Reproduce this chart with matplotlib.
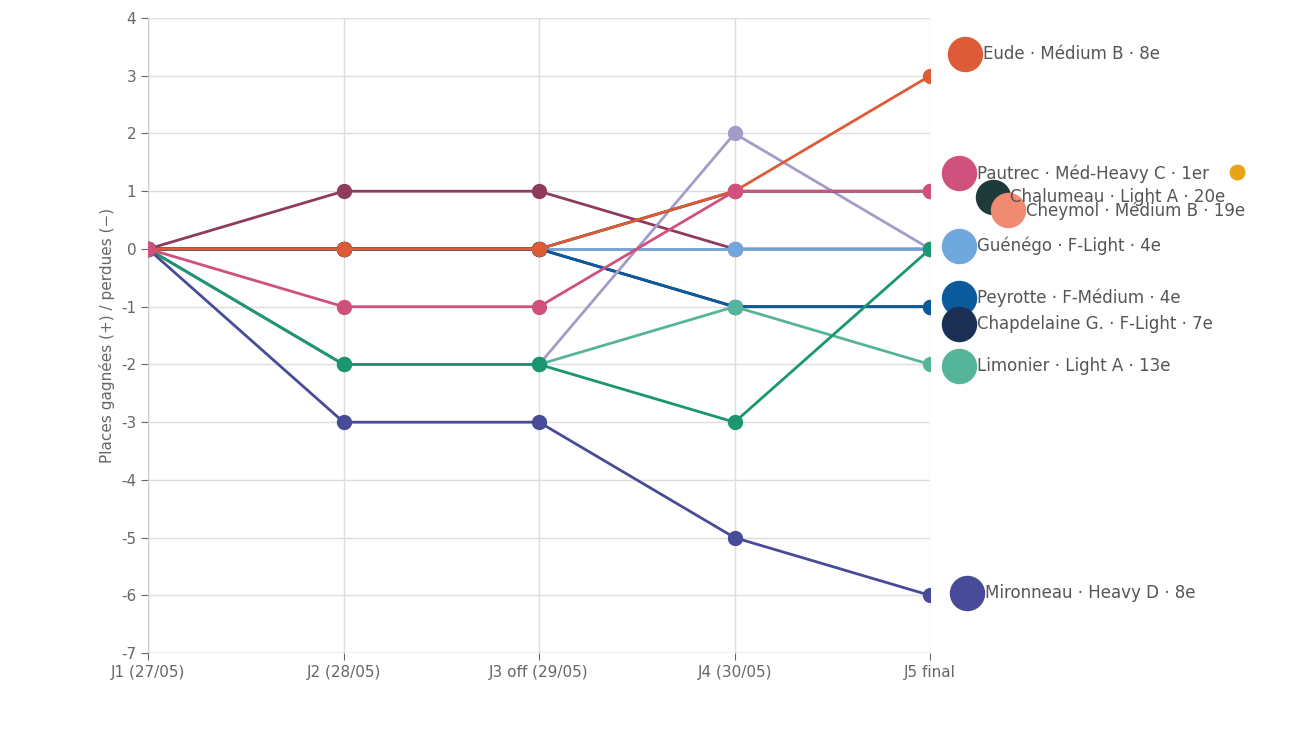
import matplotlib
matplotlib.use("Agg")
import matplotlib.pyplot as plt

plt.rcParams["axes.unicode_minus"] = False

days = ["J1 (27/05)", "J2 (28/05)", "J3 off (29/05)", "J4 (30/05)", "J5 final"]

# values per day
cheymol = [0, 0, 0, 0, 0]
guenego = [0, 0, 0, 0, 0]
maroon = [0, 1, 1, 0, 0]
chapdelaine = [0, 0, 0, -1, -1]
peyrotte = [0, 0, 0, -1, -1]
limonier = [0, -2, -2, -1, -2]
lavender = [0, -2, -2, 2, 0]
vert = [0, -2, -2, -3, 0]
mironneau = [0, -3, -3, -5, -6]
eude = [0, 0, 0, 1, 3]
pautrec = [0, -1, -1, 1, 1]
chalumeau = [0, 0, 0, 1, 1]

series = [
    (cheymol, "#f08a70"),
    (maroon, "#8e3b5e"),
    (guenego, "#6fa8dc"),
    (chapdelaine, "#1b2f55"),
    (peyrotte, "#0a5a9c"),
    (limonier, "#55b59a"),
    (lavender, "#a39cc9"),
    (vert, "#1a9670"),
    (mironneau, "#474b98"),
    (chalumeau, "#1e3a3a"),
    (eude, "#dd5b36"),
    (pautrec, "#d0507e"),
]

# end labels
label_texts = ["Eude · Médium B · 8e", "Pautrec · Méd-Heavy C · 1er", "Chalumeau · Light A · 20e",
               "Cheymol · Médium B · 19e", "Guénégo · F-Light · 4e", "Peyrotte · F-Médium · 4e",
               "Chapdelaine G. · F-Light · 7e", "Limonier · Light A · 13e", "Mironneau · Heavy D · 8e"]
label_colors = ["#dd5b36", "#d0507e", "#1e3a3a", "#f08a70", "#6fa8dc", "#0a5a9c",
                "#1b2f55", "#55b59a", "#474b98"]
label_x = [4.18, 4.15, 4.32, 4.40, 4.15, 4.15, 4.15, 4.15, 4.19]
label_y = [3.38, 1.31, 0.90, 0.67, 0.05, -0.85, -1.30, -2.03, -5.96]

fig = plt.figure(figsize=(12.92, 7.38), dpi=100)
ax = fig.add_axes([0.1146, 0.115, 0.6053, 0.8606])

x = list(range(len(days)))
for vals, col in series:
    ax.plot(x, vals, color=col, lw=2, marker="o", ms=10, zorder=3)

for t, c, lx, ly in zip(label_texts, label_colors, label_x, label_y):
    ax.scatter([lx], [ly], s=600, color=c, clip_on=False, zorder=4)
    ax.text(lx + 0.09, ly, t, fontsize=12, color="#555555", va="center", ha="left",
            clip_on=False, zorder=5)
# medal next to Pautrec
ax.scatter([5.57], [1.33], s=110, color="#e8a317", clip_on=False, zorder=5)

ax.set_xlim(0, 4)
ax.set_ylim(-7, 4)
ax.set_yticks(range(-7, 5))
ax.set_xticks(x)
ax.set_xticklabels(days)
ax.grid(color="#dddddd", lw=1)
ax.set_axisbelow(True)
for s in ax.spines.values():
    s.set_visible(False)
ax.axvline(0, color="#cccccc", lw=1)
ax.axhline(-7, color="#cccccc", lw=1)
ax.tick_params(colors="#666666", labelsize=11, length=5)
ax.set_ylabel("Places gagnées (+) / perdues (−)", color="#666666", fontsize=11)

plt.savefig("out.png", dpi=100)
